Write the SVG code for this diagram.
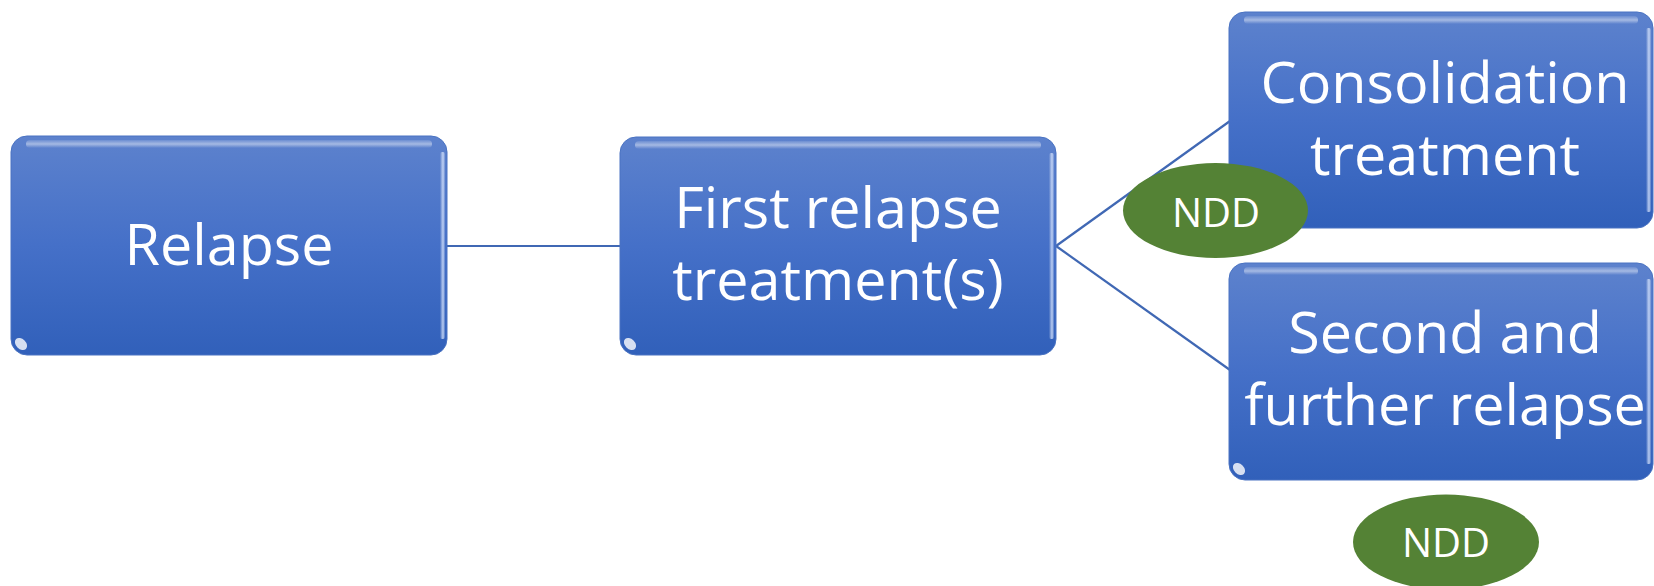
<svg xmlns="http://www.w3.org/2000/svg" width="1654" height="586" viewBox="0 0 1654 586">
  <defs>
    <linearGradient id="boxFill" x1="0" y1="0" x2="0" y2="1">
      <stop offset="0" stop-color="#5d82cd"/>
      <stop offset="0.5" stop-color="#4570c8"/>
      <stop offset="1" stop-color="#3160ba"/>
    </linearGradient>
    <linearGradient id="topGloss" x1="0" y1="0" x2="0" y2="1">
      <stop offset="0" stop-color="#ffffff" stop-opacity="0.1"/>
      <stop offset="0.5" stop-color="#ffffff" stop-opacity="0.45"/>
      <stop offset="1" stop-color="#ffffff" stop-opacity="0"/>
    </linearGradient>
    <linearGradient id="sideGloss" x1="0" y1="0" x2="1" y2="0">
      <stop offset="0" stop-color="#ffffff" stop-opacity="0"/>
      <stop offset="0.6" stop-color="#d6e4ff" stop-opacity="0.8"/>
      <stop offset="1" stop-color="#ffffff" stop-opacity="0.1"/>
    </linearGradient>
  </defs>
  <style>
    .box { fill: url(#boxFill); stroke: #4a73c2; stroke-width: 1; }
    .gloss { fill: url(#topGloss); }
    .side { fill: url(#sideGloss); }
    .spot { fill: #ffffff; opacity: 0.8; }
    .label { font-family: "Open Sans", "Noto Sans", sans-serif; font-size: 57.5px; fill: #ffffff; text-anchor: middle; }
    .ndd { fill: #548235; }
    .nddtext { font-family: "Open Sans", "Noto Sans", sans-serif; font-size: 40px; fill: #ffffff; text-anchor: middle; }
    .conn { stroke: #4068b4; stroke-width: 2.2; fill: none; }
  </style>

  <g id="connectors">
    <line class="conn" x1="447" y1="246" x2="620" y2="246"/>
    <line class="conn" x1="1056" y1="246" x2="1230" y2="121"/>
    <line class="conn" x1="1056" y1="246" x2="1230" y2="370"/>
  </g>

  <g id="node-relapse">
    <rect class="box" x="11" y="136" width="436" height="219" rx="16" ry="16"/>
    <rect class="gloss" x="26" y="140" width="406" height="8" rx="4"/>
    <rect class="side" x="440" y="152" width="5" height="187" rx="2"/>
    <ellipse class="spot" cx="21" cy="344" rx="7" ry="5" transform="rotate(45 21 344)"/>
    <text class="label" x="229" y="265">Relapse</text>
  </g>

  <g id="node-first">
    <rect class="box" x="620" y="137" width="436" height="218" rx="16" ry="16"/>
    <rect class="gloss" x="635" y="141" width="406" height="8" rx="4"/>
    <rect class="side" x="1049" y="153" width="5" height="186" rx="2"/>
    <ellipse class="spot" cx="630" cy="344" rx="7" ry="5" transform="rotate(45 630 344)"/>
    <text class="label" x="838" y="228">First relapse</text>
    <text class="label" x="838" y="300">treatment(s)</text>
  </g>

  <g id="node-consolidation">
    <rect class="box" x="1229" y="12" width="424" height="216" rx="16" ry="16"/>
    <rect class="gloss" x="1244" y="16" width="394" height="8" rx="4"/>
    <rect class="side" x="1646" y="28" width="5" height="184" rx="2"/>
    <text class="label" x="1445" y="103">Consolidation</text>
    <text class="label" x="1445" y="175">treatment</text>
  </g>

  <g id="node-second">
    <rect class="box" x="1229" y="263" width="424" height="217" rx="16" ry="16"/>
    <rect class="gloss" x="1244" y="267" width="394" height="8" rx="4"/>
    <rect class="side" x="1646" y="279" width="5" height="185" rx="2"/>
    <ellipse class="spot" cx="1239" cy="469" rx="7" ry="5" transform="rotate(45 1239 469)"/>
    <text class="label" x="1445" y="353">Second and</text>
    <text class="label" x="1445" y="425">further relapse</text>
  </g>

  <g id="ndd-1">
    <ellipse class="ndd" cx="1215.5" cy="210.5" rx="92.5" ry="47.5"/>
    <text class="nddtext" x="1216" y="227">NDD</text>
  </g>

  <g id="ndd-2">
    <ellipse class="ndd" cx="1446" cy="542" rx="93" ry="47.5"/>
    <text class="nddtext" x="1446" y="557">NDD</text>
  </g>
</svg>
